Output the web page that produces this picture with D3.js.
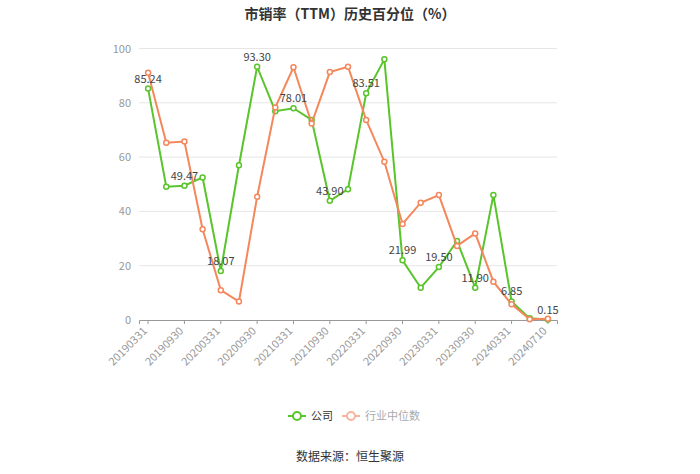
<!DOCTYPE html>
<html><head><meta charset="utf-8">
<script src="https://cdn.jsdelivr.net/npm/d3@7/dist/d3.min.js"></script>
<style>body{margin:0;background:#fff;font-family:"Noto Sans CJK SC","Microsoft YaHei",sans-serif;}</style>
</head><body><svg id="c" width="700" height="474"></svg>
<script>
const categories = ["20190331","20190630","20190930","20191231","20200331","20200630","20200930","20201231","20210331","20210630","20210930","20211231","20220331","20220630","20220930","20221231","20230331","20230630","20230930","20231231","20240331","20240630","20240710"];
const companyValues = [85.24,49.1,49.47,52.5,18.07,57.0,93.30,76.9,78.01,73.7,43.90,48.2,83.51,96.0,21.99,11.9,19.50,29.1,11.90,46.0,6.85,0.6,0.15];
const industryValues = [91.1,65.3,65.7,33.4,11.0,6.8,45.4,78.3,93.1,72.4,91.3,93.3,73.7,58.3,35.4,43.2,46.0,27.3,31.9,14.1,5.8,0.3,0.5];
const yTicks = [0,20,40,60,80,100];
const tickLabelIdx = [0,2,4,6,8,10,12,14,16,18,20,22];
const seriesNames = ["公司","行业中位数"];
const colors = ["#5ac42c","#f4875c"];

const svg = d3.select("#c");
const pLeft=139, pRight=557, pTop=48.5, pBottom=320;
const x = d3.scaleBand().domain(categories).range([pLeft,pRight]).padding(0);
const cx = d => x(d)+x.bandwidth()/2;
const y = d3.scaleLinear().domain([0,100]).range([pBottom,pTop]);

svg.append("text").attr("x",350).attr("y",19).attr("text-anchor","middle")
  .attr("font-size",14).attr("font-weight","bold").attr("fill","#333").text("市销率（TTM）历史百分位（%）");

// grid
svg.append("g").selectAll("line").data(yTicks.filter(t=>t>0)).join("line")
  .attr("x1",pLeft).attr("x2",pRight).attr("y1",d=>y(d)).attr("y2",d=>y(d))
  .attr("stroke","#e6e6e6").attr("stroke-width",1);
// y axis labels
const ya = svg.append("g").attr("transform",`translate(${pLeft},0)`)
  .call(d3.axisLeft(y).tickValues(yTicks).tickSize(0).tickPadding(8));
ya.select(".domain").remove();
ya.selectAll("text").attr("fill","#999").attr("font-size",11).attr("font-family","'Noto Sans CJK SC',sans-serif");

// x axis
const xa = svg.append("g").attr("transform",`translate(0,${pBottom})`)
  .call(d3.axisBottom(x).tickValues(tickLabelIdx.map(i=>categories[i])).tickSize(4).tickPadding(3));
xa.select(".domain").attr("stroke","#999");
xa.selectAll(".tick line").attr("stroke","#999");
xa.selectAll("text").attr("fill","#999").attr("font-size",11).attr("font-family","'Noto Sans CJK SC',sans-serif")
  .attr("text-anchor","end").attr("x",0).attr("y",0).attr("dy","0.35em").attr("dx",0)
  .attr("transform","translate(-3,9) rotate(-45)");

const line = d3.line().x((d,i)=>cx(categories[i])).y(d=>y(d));
[companyValues,industryValues].forEach((vals,si)=>{
  const g = svg.append("g");
  g.append("path").datum(vals).attr("d",line).attr("fill","none").attr("stroke",colors[si]).attr("stroke-width",2);
  g.selectAll("circle").data(vals).join("circle").attr("cx",(d,i)=>cx(categories[i])).attr("cy",d=>y(d)).attr("r",2.5)
    .attr("fill","#fff").attr("stroke",colors[si]).attr("stroke-width",1.5);
});
// labels
svg.append("g").selectAll("text").data(tickLabelIdx).join("text")
  .attr("x",i=>cx(categories[i])).attr("y",i=>y(companyValues[i])-6)
  .attr("text-anchor","middle").attr("font-size",11).attr("fill","#444")
  .text(i=>companyValues[i].toFixed(2));

// legend
const lg = svg.append("g");
const leg = [{x:288,c:colors[0],t:seriesNames[0],tc:"#333"},{x:342,c:"#f7b49a",t:seriesNames[1],tc:"#aaa"}];
leg.forEach(l=>{
  lg.append("line").attr("x1",l.x).attr("x2",l.x+18).attr("y1",416).attr("y2",416).attr("stroke",l.c).attr("stroke-width",2);
  lg.append("circle").attr("cx",l.x+9).attr("cy",416).attr("r",4).attr("fill","#fff").attr("stroke",l.c).attr("stroke-width",2);
  lg.append("text").attr("x",l.x+23).attr("y",420).attr("font-size",11).attr("fill",l.tc).text(l.t);
});
svg.append("text").attr("x",350).attr("y",461).attr("text-anchor","middle").attr("font-size",12).attr("fill","#333").text("数据来源：恒生聚源");
</script></body></html>
